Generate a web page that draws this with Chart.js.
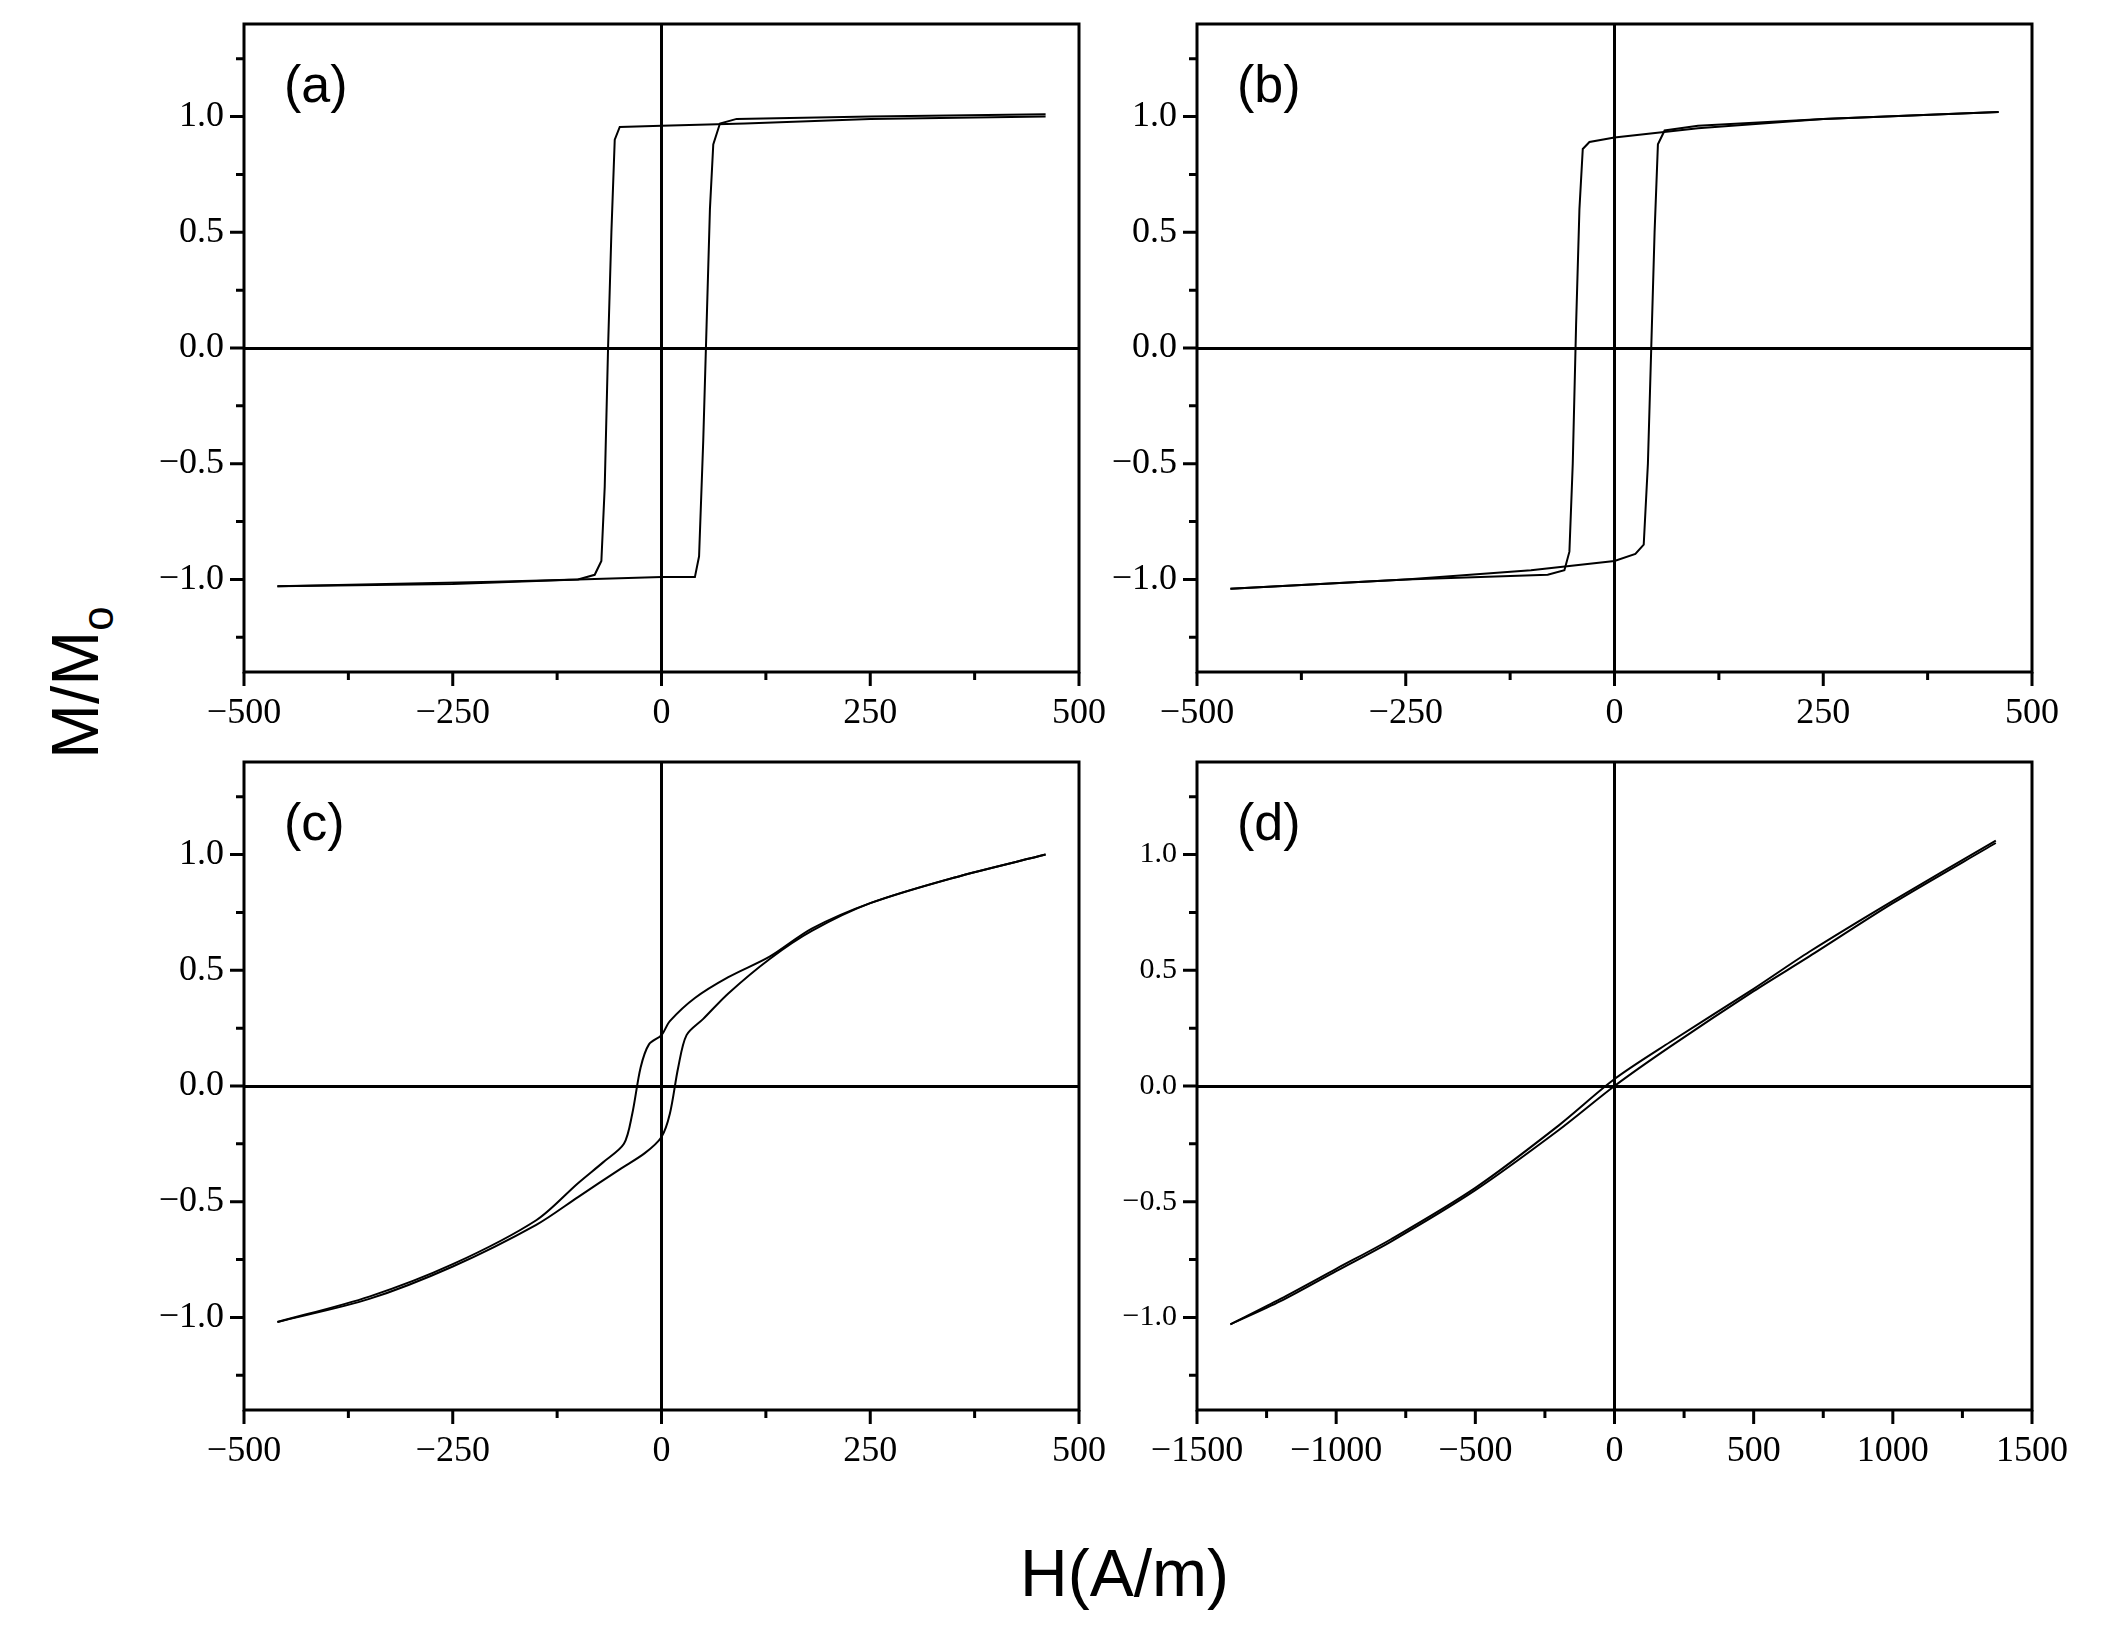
<!DOCTYPE html>
<html><head><meta charset="utf-8">
<script src="https://cdn.jsdelivr.net/npm/chart.js@4"></script>
<style>
body{margin:0;background:#fff;width:2104px;height:1625px;position:relative;overflow:hidden}
.p{position:absolute}
.lab{position:absolute;font-family:"Liberation Sans",Arial,sans-serif;color:#000}
</style></head><body>
<div class="lab" style="left:1020px;top:1535px;font-size:66px">H(A/m)</div>
<div class="lab" style="left:-40px;top:640px;font-size:66px;transform:rotate(-90deg);transform-origin:center;width:240px;text-align:center">M/M<sub style="font-size:44px">o</sub></div>
<script>
// panel (a)
const aDownH = [460, 250, 100, 0, -50, -56, -60, -64, -68, -72, -80, -100, -200, -460];
const aDownM = [1.0, 0.99, 0.97, 0.96, 0.955, 0.9, 0.5, 0.0, -0.6, -0.92, -0.98, -1.0, -1.01, -1.03];
const aUpH = [-460, -250, -100, 0, 40, 45, 50, 54, 58, 62, 70, 90, 250, 460];
const aUpM = [-1.03, -1.02, -1.0, -0.99, -0.99, -0.9, -0.4, 0.1, 0.6, 0.88, 0.97, 0.99, 1.0, 1.01];
// panel (b)
const bDownH = [460, 250, 100, 0, -30, -38, -42, -46, -50, -54, -60, -80, -250, -460];
const bDownM = [1.02, 0.99, 0.95, 0.91, 0.89, 0.86, 0.6, 0.1, -0.5, -0.88, -0.96, -0.98, -1.0, -1.04];
const bUpH = [-460, -250, -100, 0, 25, 35, 40, 44, 48, 52, 60, 100, 250, 460];
const bUpM = [-1.04, -1.0, -0.96, -0.92, -0.89, -0.85, -0.5, 0.0, 0.5, 0.88, 0.94, 0.96, 0.99, 1.02];
// panel (c)
const cDownH = [460, 350, 250, 180, 130, 80, 40, 10, 0, -15, -25, -35, -45, -70, -100, -150, -250, -350, -460];
const cDownM = [1.0, 0.9, 0.79, 0.68, 0.56, 0.47, 0.38, 0.28, 0.22, 0.18, 0.08, -0.12, -0.25, -0.33, -0.42, -0.58, -0.77, -0.91, -1.02];
const cUpH = [-460, -350, -250, -150, -100, -50, -20, 0, 10, 20, 30, 50, 80, 130, 180, 250, 350, 460];
const cUpM = [-1.02, -0.92, -0.78, -0.6, -0.48, -0.36, -0.29, -0.22, -0.12, 0.08, 0.22, 0.29, 0.4, 0.55, 0.67, 0.79, 0.9, 1.0];
// panel (d)
const dDownH = [1370, 1000, 700, 500, 200, 0, -200, -500, -800, -1000, -1200, -1380];
const dDownM = [1.06, 0.8, 0.58, 0.42, 0.19, 0.03, -0.17, -0.44, -0.66, -0.79, -0.92, -1.03];
const dUpH = [-1380, -1200, -1000, -800, -500, -200, 0, 200, 500, 700, 1000, 1370];
const dUpM = [-1.03, -0.93, -0.8, -0.67, -0.45, -0.19, 0.0, 0.17, 0.41, 0.56, 0.79, 1.05];
const yLabels = [-1, -0.5, 0, 0.5, 1];

const panels = [
  {id:'a', L:244, T:24, down:[aDownH,aDownM], up:[aUpH,aUpM], xmin:-500, xmax:500, xstep:125, xlab:250, tension:0},
  {id:'b', L:1197, T:24, down:[bDownH,bDownM], up:[bUpH,bUpM], xmin:-500, xmax:500, xstep:125, xlab:250, tension:0},
  {id:'c', L:244, T:762, down:[cDownH,cDownM], up:[cUpH,cUpM], xmin:-500, xmax:500, xstep:125, xlab:250, tension:0.3},
  {id:'d', L:1197, T:762, down:[dDownH,dDownM], up:[dUpH,dUpM], xmin:-1500, xmax:1500, xstep:250, xlab:500, tension:0.3}
];
const W = 835, H = 648, PADL = 160, PADT = 10, PADR = 50, PADB = 80;

function pts(h, m) { return h.map((x, i) => ({x: x, y: m[i]})); }
function fmtX(v) { return (v < 0 ? '\u2212' : '') + Math.abs(v); }
function fmtY(v) { return v === 0 ? '0.0' : (v < 0 ? '\u2212' : '') + Math.abs(v).toFixed(1); }
function near(v, s) { return Math.abs(v / s - Math.round(v / s)) < 1e-6; }

const frame = {
  id: 'frame',
  afterDraw(ch, args, o) {
    const c = ch.ctx, a = ch.chartArea, xs = ch.scales.x, ys = ch.scales.y;
    c.save();
    c.strokeStyle = '#000'; c.lineWidth = 3;
    c.strokeRect(a.left, a.top, a.right - a.left, a.bottom - a.top);
    c.beginPath();
    for (let v = o.xmin; v <= o.xmax + 1e-9; v += o.xstep) {
      const px = xs.getPixelForValue(v), len = near(v, o.xlab) ? 14 : 8;
      c.moveTo(px, a.bottom); c.lineTo(px, a.bottom + len);
    }
    for (let v = -1.25; v <= 1.25 + 1e-9; v += 0.25) {
      const py = ys.getPixelForValue(v), len = near(v, 0.5) ? 14 : 8;
      c.moveTo(a.left, py); c.lineTo(a.left - len, py);
    }
    c.stroke();
    c.font = '52px "Liberation Sans", Arial, sans-serif';
    c.fillStyle = '#000'; c.textBaseline = 'top';
    c.fillText('(' + o.id + ')', a.left + 40, a.top + 38);
    c.restore();
  }
};

panels.forEach(p => {
  const cv = document.createElement('canvas');
  cv.className = 'p';
  cv.style.left = (p.L - PADL) + 'px';
  cv.style.top = (p.T - PADT) + 'px';
  cv.style.width = (W + PADL + PADR) + 'px';
  cv.style.height = (H + PADT + PADB) + 'px';
  cv.width = W + PADL + PADR; cv.height = H + PADT + PADB;
  document.body.appendChild(cv);
  const ds = (d) => ({data: pts(d[0], d[1]), borderColor: '#000', borderWidth: 2, pointRadius: 0, fill: false, tension: p.tension});
  new Chart(cv, {
    type: 'line',
    data: {datasets: [ds(p.down), ds(p.up)]},
    options: {
      responsive: false, animation: false,
      layout: {padding: {top: PADT, right: PADR, left: 0, bottom: 0}},
      plugins: {legend: {display: false}, tooltip: {enabled: false}, frame: p},
      scales: {
        x: {
          type: 'linear', min: p.xmin, max: p.xmax,
          afterBuildTicks: s => { s.ticks = []; for (let v = p.xmin; v <= p.xmax; v += p.xlab) s.ticks.push({value: v}); },
          afterFit: s => { s.height = PADB; s.paddingLeft = 0; s.paddingRight = 0; },
          grid: {drawTicks: false, color: c => c.tick && c.tick.value === 0 ? '#000' : 'rgba(0,0,0,0)', lineWidth: 3},
          border: {display: false},
          ticks: {padding: 20, color: '#000', font: {family: '"Liberation Serif", serif', size: 36}, callback: v => fmtX(v), maxRotation: 0, autoSkip: false}
        },
        y: {
          min: -1.4, max: 1.4,
          afterBuildTicks: s => { s.ticks = yLabels.map(v => ({value: v})); },
          afterFit: s => { s.width = PADL; s.paddingTop = 0; s.paddingBottom = 0; },
          grid: {drawTicks: false, color: c => c.tick && c.tick.value === 0 ? '#000' : 'rgba(0,0,0,0)', lineWidth: 3},
          border: {display: false},
          ticks: {padding: 20, color: '#000', font: {family: '"Liberation Serif", serif', size: p.id === 'd' ? 30 : 36}, callback: v => fmtY(v)}
        }
      }
    },
    plugins: [frame]
  });
});
</script>
</body></html>
